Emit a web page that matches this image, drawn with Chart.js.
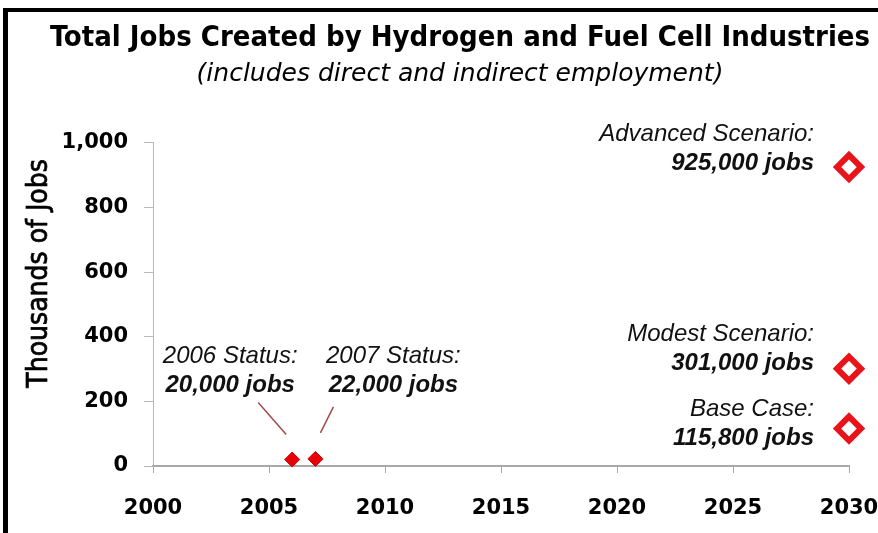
<!DOCTYPE html>
<html>
<head>
<meta charset="utf-8">
<script src="https://cdn.jsdelivr.net/npm/chart.js@4.4.0/dist/chart.umd.min.js"></script>
<style>
    html, body { margin: 0; padding: 0; background: #fff; }
    #wrap { position: relative; width: 878px; height: 533px; }
    #frame {
        position: absolute; left: 3px; top: 8px; right: 0; bottom: 0;
        border-left: 5px solid #000; border-top: 4px solid #000;
        pointer-events: none;
    }
</style>
</head>
<body>
<div id="wrap">
    <canvas id="chart-jobs" width="878" height="533"></canvas>
    <div id="frame"></div>
</div>
<script>
const titleText = "Total Jobs Created by Hydrogen and Fuel Cell Industries";
const subtitleText = "(includes direct and indirect employment)";
const yAxisLabel = "Thousands of Jobs";

const yearTicks = [2000, 2005, 2010, 2015, 2020, 2025, 2030];
const jobTicks = [0, 200, 400, 600, 800, 1000];

// actual status (thousands of jobs)
const statusYears = [2006, 2007];
const statusJobs = [20, 22];
const statusLabels = ["2006 Status:", "2007 Status:"];

// 2030 projections (thousands of jobs)
const scenarioYear = 2030;
const scenarioJobs = [925, 301, 115.8];
const scenarioLabels = ["Advanced Scenario:", "Modest Scenario:", "Base Case:"];

// label placement relative to the marker, in pixels
const statusLabelDx = [-62, 78];
const statusLeaders = [[-34, -57, -6, -25], [18, -52, 5, -26]];
const scenarioLabelDy = [-4, -5, 10];

function jobsText(v) {
    return Math.round(v * 1000).toLocaleString("en-US") + " jobs";
}

const notesPlugin = {
    id: "notes",
    afterDatasetsDraw(chart) {
        const ctx = chart.ctx;
        const xs = chart.scales.x;
        const ys = chart.scales.y;
        const area = chart.chartArea;
        ctx.save();

        // y axis title (sits a bit above the axis middle, like the original)
        ctx.save();
        ctx.translate(40, (area.top + area.bottom) / 2 - 31);
        ctx.rotate(-Math.PI / 2);
        ctx.font = "28px 'DejaVu Sans Condensed'";
        ctx.fillStyle = "#000";
        ctx.strokeStyle = "#000";
        ctx.lineWidth = 0.7;
        ctx.textAlign = "center";
        ctx.textBaseline = "middle";
        ctx.fillText(yAxisLabel, 0, 0);
        ctx.strokeText(yAxisLabel, 0, 0);
        ctx.restore();

        ctx.textBaseline = "middle";
        ctx.fillStyle = "#111";

        // status notes with leader lines
        statusYears.forEach(function (yr, i) {
            const px = xs.getPixelForValue(yr);
            const py = ys.getPixelForValue(statusJobs[i]);
            const l = statusLeaders[i];
            ctx.strokeStyle = "#a04a4a";
            ctx.lineWidth = 1.5;
            ctx.beginPath();
            ctx.moveTo(px + l[0], py + l[1]);
            ctx.lineTo(px + l[2], py + l[3]);
            ctx.stroke();

            ctx.textAlign = "center";
            ctx.font = "italic 24px 'Liberation Sans'";
            ctx.fillText(statusLabels[i], px + statusLabelDx[i], py - 103);
            ctx.font = "italic bold 24px 'Liberation Sans'";
            ctx.fillText(jobsText(statusJobs[i]), px + statusLabelDx[i], py - 74);
        });

        // scenario notes
        scenarioJobs.forEach(function (v, i) {
            const px = xs.getPixelForValue(scenarioYear);
            const py = ys.getPixelForValue(v) + scenarioLabelDy[i];
            ctx.textAlign = "right";
            ctx.font = "italic 24px 'Liberation Sans'";
            ctx.fillText(scenarioLabels[i], px - 35, py - 29);
            ctx.font = "italic bold 24px 'Liberation Sans'";
            ctx.fillText(jobsText(v), px - 35, py);
        });

        ctx.restore();
    }
};

const chartJobs = document.getElementById("chart-jobs");

new Chart(chartJobs, {
    type: "scatter",
    data: {
        datasets: [
            {
                label: "Status",
                data: statusYears.map((yr, i) => ({ x: yr, y: statusJobs[i] })),
                pointStyle: "rectRot",
                pointRadius: 7.5,
                backgroundColor: "#e8000b",
                borderColor: "#c80000",
                borderWidth: 1,
                clip: false,
            },
            {
                label: "Scenarios",
                data: scenarioJobs.map((v) => ({ x: scenarioYear, y: v })),
                pointStyle: "rectRot",
                pointRadius: 12,
                backgroundColor: "#ffffff",
                borderColor: "#e8141a",
                borderWidth: 6,
                clip: false,
            },
        ],
    },
    options: {
        responsive: false,
        animation: false,
        layout: { padding: { left: 42, right: 0, top: 0, bottom: 0 } },
        scales: {
            x: {
                type: "linear",
                min: 2000,
                max: 2030,
                afterBuildTicks: (s) => { s.ticks = yearTicks.map((v) => ({ value: v })); },
                afterFit: (s) => {
                    s.height = 67;
                    s.paddingLeft = 0;
                    s.paddingRight = 29;
                },
                grid: { drawOnChartArea: false, drawTicks: true, tickLength: 7, color: "#a8a8a8", lineWidth: 1 },
                border: { color: "#a8a8a8", width: 2 },
                ticks: {
                    callback: (v) => String(v),
                    color: "#000",
                    padding: 23,
                    maxRotation: 0,
                    font: { family: "DejaVu Sans", size: 21, weight: "bold" },
                },
            },
            y: {
                min: 0,
                max: 1000,
                afterBuildTicks: (s) => { s.ticks = jobTicks.map((v) => ({ value: v })); },
                afterFit: (s) => { s.width = 111; },
                grid: { drawOnChartArea: false, drawTicks: true, tickLength: 9, color: "#b8b8b8", lineWidth: 1 },
                border: { color: "#b8b8b8", width: 1 },
                ticks: {
                    callback: (v) => v.toLocaleString("en-US"),
                    color: "#000",
                    padding: 16,
                    font: { family: "DejaVu Sans", size: 21, weight: "bold" },
                },
            },
        },
        plugins: {
            legend: { display: false },
            tooltip: { enabled: false },
            title: {
                display: true,
                text: titleText,
                color: "#000",
                font: { family: "DejaVu Sans Condensed", size: 29, weight: "bold" },
                padding: { top: 21, bottom: 0 },
            },
            subtitle: {
                display: true,
                text: subtitleText,
                color: "#000",
                font: { family: "DejaVu Sans", size: 25, style: "italic", weight: "normal" },
                padding: { top: 4, bottom: 53 },
            },
        },
    },
    plugins: [notesPlugin],
});
</script>
</body>
</html>
